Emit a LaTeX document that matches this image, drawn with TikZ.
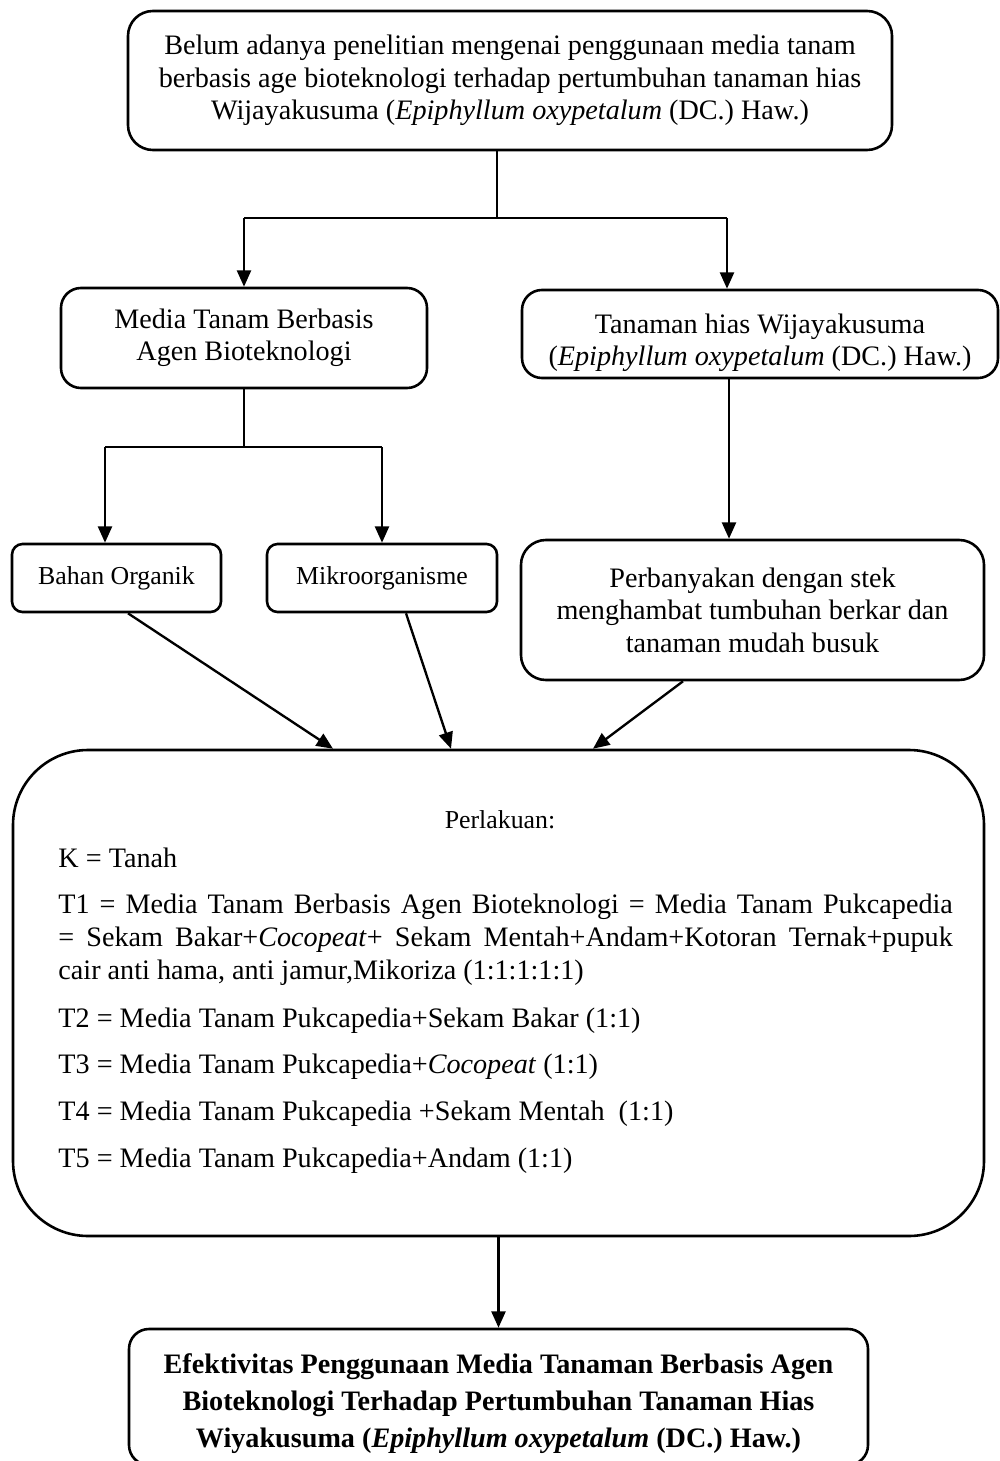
\documentclass[tikz,border=0pt]{standalone}
\usepackage{fontspec}
\setmainfont{Liberation Serif}
\usetikzlibrary{arrows.meta,calc}
\begin{document}
\begin{tikzpicture}[x=0.426pt,y=-0.426pt,
  box/.style={draw,line width=1.1pt,inner sep=0pt,align=center},
  fnt/.style={font=\fontsize{12pt}{13.85pt}\selectfont},
  sml/.style={font=\fontsize{11pt}{13pt}\selectfont},
  txt/.style={fnt,anchor=west,inner sep=0pt},
  conn/.style={line width=1pt},
  arr/.style={line width=1pt,-{Triangle[length=7pt,width=6pt]}}]

\useasboundingbox (0,0) rectangle (1000,1461);

% boxes
\node[box,fnt,rounded corners=10.6pt,minimum width=764*0.426pt,minimum height=139*0.426pt] (top) at (510,80.5)
  {Belum adanya penelitian mengenai penggunaan media tanam\\berbasis age bioteknologi terhadap pertumbuhan tanaman hias\\Wijayakusuma (\textit{Epiphyllum oxypetalum} (DC.) Haw.)};

\node[box,fnt,rounded corners=8.5pt,minimum width=366*0.426pt,minimum height=100*0.426pt] (media) at (244,338)
  {Media Tanam Berbasis\\Agen Bioteknologi};

\node[box,rounded corners=8.5pt,minimum width=476*0.426pt,minimum height=88*0.426pt] (tan) at (760,334) {};
\node[fnt,align=center,inner sep=0pt] (tantext) at (760,343)
  {Tanaman hias Wijayakusuma\\(\textit{Epiphyllum oxypetalum} (DC.) Haw.)};

\node[box,sml,rounded corners=4.5pt,minimum width=209*0.426pt,minimum height=68*0.426pt] (bahan) at (116.5,578)
  {Bahan Organik};

\node[box,sml,rounded corners=4.5pt,minimum width=230*0.426pt,minimum height=68*0.426pt] (mikro) at (382,578)
  {Mikroorganisme};

\node[box,fnt,rounded corners=10.6pt,minimum width=463*0.426pt,minimum height=140*0.426pt] (perb) at (752.5,610)
  {Perbanyakan dengan stek\\menghambat tumbuhan berkar dan\\tanaman mudah busuk};

\node[box,rounded corners=32pt,minimum width=971*0.426pt,minimum height=486*0.426pt] (big) at (498.5,993) {};

\node[box,rounded corners=8.5pt,minimum width=739*0.426pt,minimum height=136*0.426pt] (bottom) at (498.5,1397) {};
\node[font=\fontsize{12pt}{15.8pt}\selectfont\bfseries,align=center,inner sep=0pt] (bottomtext) at (498.5,1404)
  {Efektivitas Penggunaan Media Tanaman Berbasis Agen\\Bioteknologi Terhadap Pertumbuhan Tanaman Hias\\Wiyakusuma (\textit{Epiphyllum oxypetalum} (DC.) Haw.)};

% text inside big box
\node[sml,inner sep=0pt] (perl) at (500,820) {Perlakuan:};
\node[txt] (k) at (58,858) {K = Tanah};
\node[txt] (t1a) at (58,907) {\makebox[381pt][s]{T1 = Media Tanam Berbasis Agen Bioteknologi = Media Tanam Pukcapedia}};
\node[txt] (t1b) at (58,940) {\makebox[381pt][s]{= Sekam Bakar+\textit{Cocopeat}+ Sekam Mentah+Andam+Kotoran Ternak+pupuk}};
\node[txt] (t1c) at (58,973) {cair anti hama, anti jamur,Mikoriza (1:1:1:1:1)};
\node[txt] (t2) at (58,1021) {T2 = Media Tanam Pukcapedia+Sekam Bakar (1:1)};
\node[txt] (t3) at (58,1067) {T3 = Media Tanam Pukcapedia+\textit{Cocopeat} (1:1)};
\node[txt] (t4) at (58,1114) {T4 = Media Tanam Pukcapedia +Sekam Mentah\ \ (1:1)};
\node[txt] (t5) at (58,1161) {T5 = Media Tanam Pukcapedia+Andam (1:1)};

% connectors
\coordinate (j) at (497,218);
\coordinate (jl) at (244,218);
\coordinate (jr) at (727,218);
\draw[conn] (top.south -| j) -- (j);
\draw[conn] (jl) -- (jr);
\draw[arr] (jl) -- (jl |- media.north);
\draw[arr] (jr) -- (jr |- tan.north);

\coordinate (m) at (244,447);
\coordinate (ml) at (105,447);
\coordinate (mr) at (382,447);
\draw[conn] (media.south) -- (m);
\draw[conn] (ml) -- (mr);
\draw[arr] (ml) -- (ml |- bahan.north);
\draw[arr] (mr) -- (mikro.north);

\coordinate (r) at (729,0);
\draw[arr] (tan.south -| r) -- (perb.north -| r);

\draw[arr] ($(bahan.south)+(11.5,0)$) -- ($(big.north)+(-165.5,0)$);
\draw[arr] ($(mikro.south)+(24,0)$) -- ($(big.north)+(-47.5,0)$);
\draw[arr] ($(perb.south)+(-69.5,0)$) -- ($(big.north)+(94.5,0)$);
\draw[arr] (big.south) -- (bottom.north);
\end{tikzpicture}
\end{document}
